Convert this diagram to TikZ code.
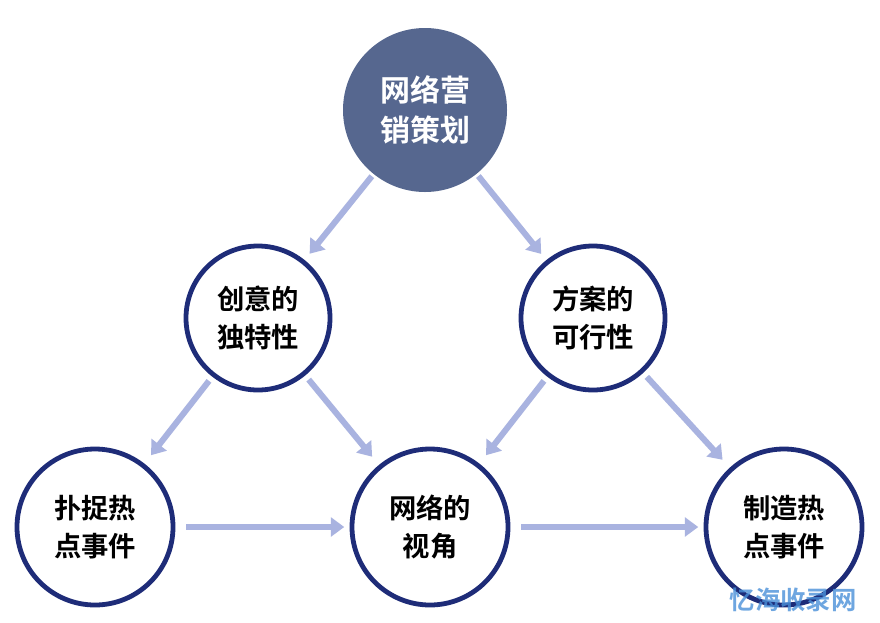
\documentclass[tikz,border=0pt]{standalone}
\usepackage{fontspec}
\newfontfamily\cjk{Noto Sans CJK SC}
\newfontfamily\cjkb{Noto Sans CJK SC Bold}
\usetikzlibrary{arrows.meta}
\definecolor{navy}{HTML}{1E2C78}
\definecolor{topfill}{HTML}{56678F}
\definecolor{arr}{HTML}{A9B3E0}
\definecolor{wm}{HTML}{4A90D9}
\begin{document}
\begin{tikzpicture}[x=0.75pt,y=-0.75pt,
  circ/.style={circle,draw=navy,line width=3.6pt,fill=white,minimum size=#1*0.75pt,inner sep=0pt,align=center,font=\cjkb\fontsize{20.5}{28}\selectfont,text=black},
  topc/.style={circle,fill=topfill,minimum size=164*0.75pt,inner sep=0pt,align=center,font=\cjkb\fontsize{22.5}{30}\selectfont,text=white},
  flow/.style={draw=arr,line width=4.5pt,-{Triangle[length=10pt,width=14pt]}}]
\useasboundingbox (0,0) rectangle (880,622);
\fill[white] (0,0) rectangle (880,622);
\node[topc] (t) at (425,110) {网络营\\销策划};
\node[circ=144] (l) at (258,318) {创意的\\独特性};
\node[circ=144] (r) at (593,318) {方案的\\可行性};
\node[circ=156] (bl) at (95,527) {扑捉热\\点事件};
\node[circ=156] (bm) at (430,527) {网络的\\视角};
\node[circ=156] (br) at (784,527) {制造热\\点事件};
\draw[flow,shorten <=2pt,shorten >=6pt] (t) -- (l);
\draw[flow,shorten <=2pt,shorten >=6pt] (t) -- (r);
\draw[flow,shorten <=4pt,shorten >=8pt] (l) -- (bl);
\draw[flow,shorten <=4pt,shorten >=8pt] (l) -- (bm);
\draw[flow,shorten <=4pt,shorten >=8pt] (r) -- (bm);
\draw[flow,shorten <=4pt,shorten >=8pt] (r) -- (br);
\draw[flow,shorten <=8pt,shorten >=4pt] (bl) -- (bm);
\draw[flow,shorten <=8pt,shorten >=4pt] (bm) -- (br);
\node[font=\cjkb\fontsize{19}{22}\selectfont,text=wm,opacity=0.8] (w) at (793,600) {忆海收录网};
\end{tikzpicture}
\end{document}
